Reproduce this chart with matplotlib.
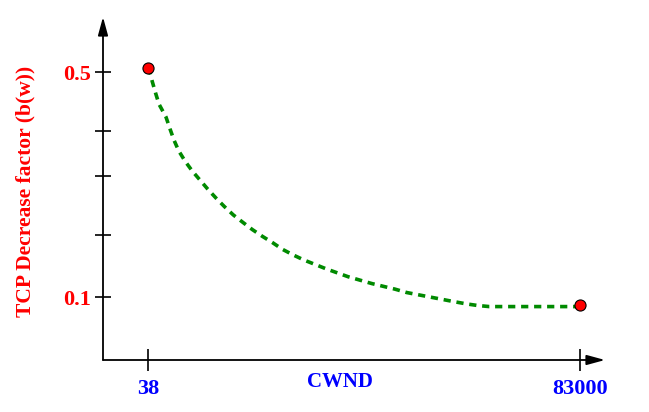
import matplotlib
matplotlib.use("Agg")
import matplotlib.pyplot as plt

# curve (CWND vs decrease factor)
cwnd = [96, 288, 864, 1517, 2150, 3495, 4263, 5031, 5934, 7201, 8545, 10024,
        11502, 13097, 14691, 16419, 18224, 20068, 21988, 23909, 25829, 27884,
        29939, 32109, 34279, 36392, 38504, 40750, 42997, 45225, 47472, 49719,
        51946, 54193, 56440, 58667, 61048, 63276, 65581, 83000]
bw = [0.508, 0.504, 0.483, 0.462, 0.443, 0.420, 0.399, 0.379, 0.360, 0.341,
      0.324, 0.308, 0.292, 0.276, 0.261, 0.246, 0.233, 0.220, 0.208, 0.197,
      0.185, 0.175, 0.166, 0.158, 0.150, 0.143, 0.136, 0.130, 0.124, 0.119,
      0.114, 0.108, 0.104, 0.100, 0.096, 0.092, 0.088, 0.085, 0.083, 0.083]

end_x = [38, 83000]
end_y = [0.508, 0.085]

xticks = [38, 83000]
xticklabels = ["38", "83000"]
yticks = [0.5, 0.396, 0.316, 0.211, 0.1]
yticklabels = ["0.5", "", "", "", "0.1"]

fig = plt.figure(figsize=(6.49, 4.12), dpi=100)
ax = fig.add_axes([103/649, 52/412, 502/649, 343/412])
ax.set_xlim(-8604, 87800)
ax.set_ylim(-0.012, 0.598)

ax.plot(cwnd, bw, color="#008a00", lw=2.6, dashes=(2.0, 1.6), zorder=2)
ax.plot(end_x, end_y, "o", color="red", mec="black", mew=0.8, ms=8,
        zorder=3, clip_on=False)

for s in ax.spines.values():
    s.set_visible(False)

# axes drawn as arrows
arr = dict(arrowstyle="-|>,head_length=1.1,head_width=0.3", color="black",
           lw=1.3, shrinkA=0, shrinkB=0)
ax.annotate("", xy=(0, 1), xytext=(0, 0), xycoords="axes fraction",
            arrowprops=arr)
ax.annotate("", xy=(1, 0), xytext=(0, 0), xycoords="axes fraction",
            arrowprops=arr)

tfont = dict(family="Liberation Serif", weight="bold", size=16)

ax.set_xticks(xticks)
ax.set_xticklabels(xticklabels, color="blue", **tfont)
ax.set_yticks(yticks)
ax.set_yticklabels(yticklabels, color="red", **tfont)
ax.tick_params(axis="x", direction="inout", length=16, width=1.2, pad=6)
ax.tick_params(axis="y", direction="inout", length=11, width=1.2, pad=3)

fig.text(340/649, 1 - 387/412, "CWND", color="blue", family="Liberation Serif",
         weight="bold", size=15, ha="center", va="baseline")
fig.text(25/649, 1 - 191/412, "TCP Decrease factor (b(w))", color="red",
         family="Liberation Serif", weight="bold", size=15.5,
         rotation=90, ha="center", va="center")

fig.savefig("out.png", dpi=100)
